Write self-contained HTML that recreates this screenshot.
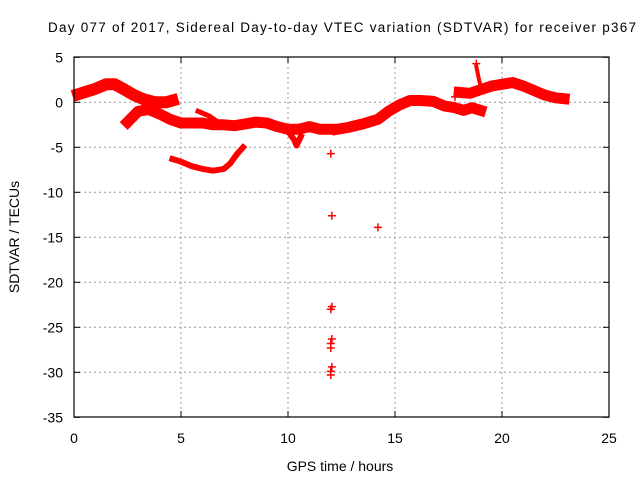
<!DOCTYPE html>
<html><head><meta charset="utf-8"><style>
body{margin:0;background:#fff}
svg{display:block;font-family:"Liberation Sans",sans-serif}
</style></head><body>
<svg id="chart" width="640" height="480" viewBox="0 0 640 480">
<text x="342" y="32" font-size="13.5" text-anchor="middle" textLength="588">Day 077 of 2017, Sidereal Day-to-day VTEC variation (SDTVAR) for receiver p367</text>
<text x="340" y="471" font-size="14" text-anchor="middle">GPS time / hours</text>
<text transform="translate(19,237) rotate(-90)" font-size="14" text-anchor="middle">SDTVAR / TECUs</text>
<g id="grid"></g><g id="ticks"></g><g id="marks"></g>
<rect x="74" y="57" width="535" height="360" fill="none" stroke="#000" stroke-width="1.2"/>
</svg>
<script>
const xTicks=[0,5,10,15,20,25];
const yTicks=[5,0,-5,-10,-15,-20,-25,-30,-35];
const bandA=[[0.2,0.9],[0.6,1.2],[1.0,1.5],[1.5,2.0],[1.9,2.0],[2.3,1.5],[2.8,0.8],[3.3,0.3],[3.8,0.0],[4.3,0.0],[4.6,0.2]];
const bandB=[[2.5,-2.2],[3.0,-1.0],[3.5,-0.8],[4.0,-1.3],[4.5,-1.9],[5.0,-2.3],[5.5,-2.3],[6.0,-2.3],[6.5,-2.5],[7.0,-2.5],[7.5,-2.6],[8.0,-2.4],[8.5,-2.2],[9.0,-2.3],[9.5,-2.7],[10.0,-3.0],[10.5,-3.0],[11.0,-2.7],[11.5,-3.0],[12.0,-3.0]];
const bandB2=[[5.8,-1.0],[6.3,-1.5],[6.8,-2.3]];
const bandDip=[[10.0,-3.2],[10.3,-4.2],[10.4,-4.8],[10.6,-3.8]];
const bandC=[[4.6,-6.3],[5.0,-6.6],[5.5,-7.1],[6.0,-7.4],[6.5,-7.6],[7.0,-7.4],[7.3,-6.8],[7.6,-5.8],[7.9,-5.0]];
const bandD=[[12.3,-3.0],[12.8,-2.8],[13.5,-2.4],[14.2,-1.9],[14.7,-1.0],[15.2,-0.3],[15.7,0.2],[16.2,0.2],[16.8,0.1],[17.3,-0.4],[17.8,-0.6],[18.2,-0.9],[18.6,-0.6],[19.0,-0.9]];
const bandE=[[18.0,1.1],[18.5,1.0],[19.0,1.4],[19.5,1.8],[20.0,2.0],[20.5,2.2],[21.0,1.8],[21.5,1.3],[22.0,0.8],[22.5,0.5],[22.9,0.4]];
const bandF=[[18.8,4.0],[18.9,2.8],[19.0,1.8]];
const singles=[[12.0,-5.7],[12.05,-12.6],[14.2,-13.9],[12.0,-23.0],[12.05,-22.7],[12.05,-26.3],[12.0,-26.8],[12.0,-27.3],[12.05,-29.4],[12.0,-29.9],[12.0,-30.3],[18.8,4.3],[17.8,0.6]];
const X=h=>74+h*21.4, Y=v=>102.3-v*9;
const NS='http://www.w3.org/2000/svg';
function mk(t,a,p){const e=document.createElementNS(NS,t);for(const k in a)e.setAttribute(k,a[k]);document.getElementById(p).appendChild(e);return e;}
xTicks.forEach(t=>{
 if(t>0&&t<25){const g=mk('line',{x1:X(t),x2:X(t),y1:57,y2:417,stroke:'#999','stroke-dasharray':'2,3'},'grid');
 
 }
 mk('line',{x1:X(t),x2:X(t),y1:417,y2:411,stroke:'#000'},'ticks');
 mk('line',{x1:X(t),x2:X(t),y1:57,y2:63,stroke:'#000'},'ticks');
 const l=mk('text',{x:X(t),y:443,'font-size':14,'text-anchor':'middle'},'ticks');l.textContent=t;
 
 
});
yTicks.forEach(t=>{
 if(t<5&&t>-35){const g=mk('line',{x1:74,x2:609,y1:Y(t),y2:Y(t),stroke:'#999','stroke-dasharray':'2,3'},'grid');
 
 }
 mk('line',{x1:74,x2:80,y1:Y(t),y2:Y(t),stroke:'#000'},'ticks');
 mk('line',{x1:603,x2:609,y1:Y(t),y2:Y(t),stroke:'#000'},'ticks');
 const l=mk('text',{x:63,y:Y(t)+5,'font-size':14,'text-anchor':'end'},'ticks');l.textContent=t;
 
 
});
function band(d,w,name){
 const p=mk('polyline',{points:d.map(q=>X(q[0])+','+Y(q[1])).join(' '),fill:'none',stroke:'#f00','stroke-width':w,'stroke-linejoin':'round','stroke-linecap':'square'},'marks');
 
 
}
band(bandA,12,'series-band-a');band(bandB,11,'series-band-b');band(bandB2,5,'series-band-b2');
band(bandDip,6,'series-dip');band(bandC,6,'series-band-c');band(bandD,11,'series-band-d');
band(bandE,11,'series-band-e');band(bandF,4,'series-band-f');
singles.forEach(q=>{
 const p=mk('path',{d:`M${X(q[0])-4},${Y(q[1])}h8M${X(q[0])},${Y(q[1])-4}v8`,stroke:'#f00','stroke-width':1.5},'marks');
 
 
});
</script>
</body></html>
